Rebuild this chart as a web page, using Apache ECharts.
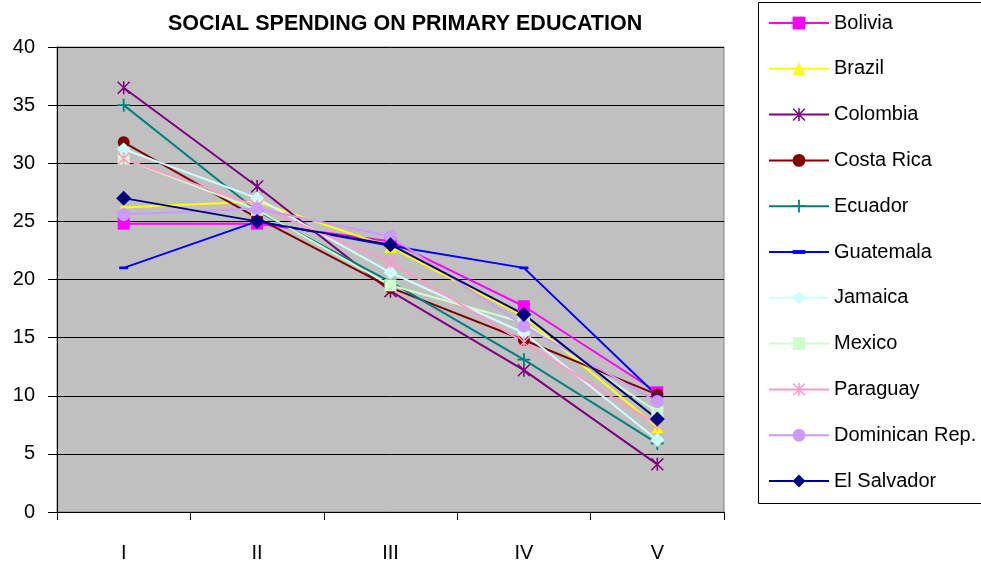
<!DOCTYPE html>
<html>
<head>
<meta charset="utf-8">
<script src="https://cdn.jsdelivr.net/npm/echarts@6/dist/echarts.min.js"></script>
<style>
html,body{margin:0;padding:0;background:#fff;}
#chart{width:981px;height:568px;}
</style>
</head>
<body>
<div id="chart"></div>
<script>
const categories = ['I', 'II', 'III', 'IV', 'V'];
const bolivia    = [24.8, 24.8, 23.3, 17.7, 10.3];
const brazil     = [26.2, 26.7, 22.8, 16.8, 7.3];
const colombia   = [36.5, 28.0, 19.0, 12.2, 4.1];
const costaRica  = [31.8, 25.3, 19.3, 14.8, 10.1];
const ecuador    = [35.0, 25.9, 19.8, 13.1, 5.9];
const guatemala  = [21.0, 25.0, 22.9, 21.0, 10.0];
const jamaica    = [31.2, 27.0, 20.6, 15.4, 6.2];
const mexico     = [30.4, 26.0, 19.5, 16.3, 8.6];
const paraguay   = [30.4, 26.3, 21.5, 14.6, 7.5];
const dominican  = [25.6, 26.1, 23.7, 16.0, 9.5];
const elSalvador = [27.0, 25.0, 23.0, 17.0, 8.0];
const yTicks = [0, 5, 10, 15, 20, 25, 30, 35, 40];

const FONT = "'Liberation Sans', Arial, sans-serif";
const ASTER = 'path://M4.4,0L5.6,0L5.6,10L4.4,10Z M0,0.8L0.8,0L10,9.2L9.2,10Z M10,0.8L0.8,10L0,9.2L9.2,0Z';
const PLUS = 'path://M4.3,0H5.7V4.3H10V5.7H5.7V10H4.3V5.7H0V4.3H4.3Z';
const DASH = 'path://M0,0L0,0M0,3.5H10V6.5H0Z M10,10L10,10';

function mk(name, data, color, symbol, size) {
  return {
    name: name, type: 'line', data: data,
    symbol: symbol, symbolSize: size,
    lineStyle: { color: color, width: 2 },
    itemStyle: { color: color, borderWidth: 0 },
    emphasis: { disabled: true },
    animation: false
  };
}

const series = [
  mk('Bolivia', bolivia, '#FF00FF', 'rect', 12),
  mk('Brazil', brazil, '#FFFF00', 'triangle', 12),
  mk('Colombia', colombia, '#800080', ASTER, 13),
  mk('Costa Rica', costaRica, '#800000', 'circle', 12),
  mk('Ecuador', ecuador, '#008080', PLUS, 13),
  mk('Guatemala', guatemala, '#0000FF', DASH, 9),
  mk('Jamaica', jamaica, '#CCFFFF', 'diamond', 14),
  mk('Mexico', mexico, '#CCFFCC', 'rect', 12),
  mk('Paraguay', paraguay, '#FF99CC', ASTER, 13),
  mk('Dominican Rep.', dominican, '#CC99FF', 'circle', 13),
  mk('El Salvador', elSalvador, '#000080', 'diamond', 15)
];

const chart = echarts.init(document.getElementById('chart'), null, { renderer: 'canvas' });
chart.setOption({
  animation: false,
  backgroundColor: '#FFFFFF',
  title: {
    text: 'SOCIAL SPENDING ON PRIMARY EDUCATION',
    left: 163, top: 8,
    textStyle: { fontFamily: FONT, fontSize: 21.5, fontWeight: 'bold', color: '#000' }
  },
  graphic: [{
    type: 'rect', left: 758, top: 2, z: -1,
    shape: { x: 0, y: 0, width: 240, height: 501 },
    style: { fill: '#fff', stroke: '#000', lineWidth: 1 }
  }],
  legend: {
    orient: 'vertical', left: 768, top: 13, padding: 0,
    itemWidth: 60, itemHeight: 16, itemGap: 25.8,
    textStyle: { fontFamily: FONT, fontSize: 20, color: '#000' },
    data: series.map(s => s.name)
  },
  grid: {
    left: 57, right: 257, top: 47, bottom: 56,
    show: true, backgroundColor: '#C0C0C0', borderColor: '#808080', borderWidth: 1
  },
  xAxis: {
    type: 'category', data: categories, boundaryGap: true,
    axisLine: { lineStyle: { color: '#000', width: 1 } },
    axisTick: { show: true, length: 8, lineStyle: { color: '#000' } },
    axisLabel: { fontFamily: FONT, fontSize: 20, color: '#000', margin: 31 },
    splitLine: { show: false }
  },
  yAxis: {
    type: 'value', min: 0, max: 40, interval: 5,
    axisLine: { show: true, lineStyle: { color: '#000', width: 1 } },
    axisTick: { show: true, length: 9, lineStyle: { color: '#000' } },
    axisLabel: {
      fontFamily: FONT, fontSize: 20, color: '#000', margin: 22,
      formatter: v => (yTicks.indexOf(v) >= 0 ? String(v) : '')
    },
    splitLine: { show: true, lineStyle: { color: '#000', width: 1 } }
  },
  series: series
});
</script>
</body>
</html>
